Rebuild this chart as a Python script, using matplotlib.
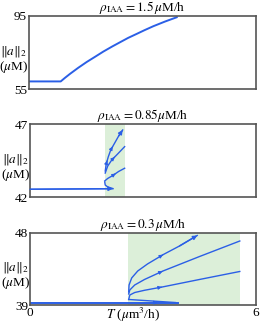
import matplotlib
matplotlib.use("Agg")
import matplotlib.pyplot as plt

plt.rcParams['font.family'] = ['Liberation Serif', 'DejaVu Serif']
plt.rcParams['mathtext.fontset'] = 'stix'

# ---------------- data ----------------
titles = [r"$\rho_{\rm IAA} = 1.5\,\mu$M/h",
          r"$\rho_{\rm IAA} = 0.85\mu$M/h",
          r"$\rho_{\rm IAA} = 0.3\,\mu$M/h"]
ylims = [(55, 95), (42, 47), (39, 48)]
ytick_labels = [["55", "95"], ["42", "47"], ["39", "48"]]
xtick_labels = ["0", "6"]
xlim = (0, 6)

# panel 1 (rho = 1.5)
p1_T = [0.0, 0.838, 0.95, 1.084, 1.30, 1.525, 1.75, 1.964, 2.20, 2.405,
        2.62, 2.847, 3.05, 3.286, 3.60, 3.904]
p1_a = [59.15, 59.15, 61.1, 63.3, 66.6, 69.8, 72.7, 75.5, 78.3, 80.6,
        83.0, 85.2, 87.2, 89.4, 92.0, 94.3]

# panel 2 (rho = 0.85)
p2_band = (1.98, 2.51)
p2_flat_T = [0.0, 2.20]
p2_flat_a = [42.53, 42.57]
p2_hook_T = [2.196, 2.063, 1.997, 1.984]
p2_hook_a = [42.58, 42.69, 42.82, 43.03]
p2_b3_T = [1.984, 2.063, 2.196, 2.354, 2.513]
p2_b3_a = [43.10, 43.27, 43.47, 43.75, 43.97]
p2_b2_T = [1.997, 2.063, 2.169, 2.328, 2.513]
p2_b2_a = [43.64, 44.12, 44.53, 44.95, 45.45]
p2_b1_T = [1.997, 2.024, 2.077, 2.143, 2.249, 2.354, 2.460]
p2_b1_a = [43.78, 44.26, 44.74, 45.22, 45.70, 46.18, 46.59]

# panel 3 (rho = 0.3)
p3_band = (2.60, 5.58)
p3_flat_T = [0.0, 3.94]
p3_flat_a = [39.30, 39.30]
p3_ret_T = [3.86, 2.62]
p3_ret_a = [39.31, 39.69]
p3_b3_T = [2.62, 2.65, 2.78, 3.04, 3.51, 4.50, 5.57]
p3_b3_a = [39.69, 40.25, 40.56, 40.84, 41.25, 42.19, 43.19]
p3_b2_T = [2.62, 2.65, 2.78, 3.04, 3.53, 4.50, 5.57]
p3_b2_a = [40.38, 40.88, 41.50, 42.19, 43.25, 45.06, 47.00]
p3_b1_T = [2.62, 2.63, 2.70, 2.86, 3.12, 3.54, 3.97, 4.44]
p3_b1_a = [40.63, 41.50, 42.38, 43.25, 44.13, 45.31, 46.38, 47.69]

# ---------------- style ----------------
BLUE = '#2b5fe6'
GREEN = '#dcefd9'
FRAME = '#555555'

W, H = 261, 325
fig = plt.figure(figsize=(W / 100, H / 100), dpi=100)

boxes = [(29, 16, 256, 89), (30, 124, 256, 197), (30, 233, 256, 305)]
axes = []
for (l, t, r, b) in boxes:
    ax = fig.add_axes([l / W, 1 - b / H, (r - l) / W, (b - t) / H])
    axes.append(ax)


def arrow(ax, T, a, i, lw=1.0, ms=6):
    ax.annotate('', xy=(T[i + 1], a[i + 1]), xytext=(T[i], a[i]),
                arrowprops=dict(arrowstyle='-|>', color=BLUE, lw=lw,
                                mutation_scale=ms, shrinkA=0, shrinkB=0),
                zorder=4)


def mid_arrow(ax, T, a, i, frac=0.5, ms=5):
    x0, y0 = T[i], a[i]
    x1, y1 = T[i + 1], a[i + 1]
    xm = x0 + frac * (x1 - x0)
    ym = y0 + frac * (y1 - y0)
    xs = xm - 0.02 * (x1 - x0)
    ys = ym - 0.02 * (y1 - y0)
    ax.annotate('', xy=(xm, ym), xytext=(xs, ys),
                arrowprops=dict(arrowstyle='-|>', color=BLUE, lw=0.8,
                                mutation_scale=ms, shrinkA=0, shrinkB=0),
                zorder=4)


for k, ax in enumerate(axes):
    ax.set_xlim(*xlim)
    ax.set_ylim(*ylims[k])
    ax.set_yticks(list(ylims[k]))
    ax.set_yticklabels(ytick_labels[k])
    ax.tick_params(axis='both', length=0, pad=1.5, labelsize=9.5)
    for s in ax.spines.values():
        s.set_color(FRAME)
        s.set_linewidth(1.2)
    ax.set_title(titles[k], fontsize=9.5, pad=2)
    ax.text(-0.066, 0.52, r"$\|a\|_2$", transform=ax.transAxes,
            ha='center', va='center', fontsize=9.5)
    ax.text(-0.066, 0.30, r"($\mu$M)", transform=ax.transAxes,
            ha='center', va='center', fontsize=9.5)
    if k < 2:
        ax.set_xticks([])
    else:
        ax.set_xticks(list(xlim))
        ax.set_xticklabels(xtick_labels)
        ax.text(0.455, -0.135, r"$T$ ($\mu$m$^3$/h)", transform=ax.transAxes,
                ha='center', va='center', fontsize=9.5)

# panel 1
ax = axes[0]
ax.plot(p1_T, p1_a, color=BLUE, lw=1.4)

# panel 2
ax = axes[1]
ax.axvspan(*p2_band, color=GREEN, lw=0, zorder=0)
for T, a in [(p2_flat_T, p2_flat_a), (p2_hook_T, p2_hook_a), (p2_b3_T, p2_b3_a),
             (p2_b2_T, p2_b2_a), (p2_b1_T, p2_b1_a)]:
    ax.plot(T, a, color=BLUE, lw=1.0)
arrow(ax, p2_flat_T, p2_flat_a, 0)
arrow(ax, p2_b1_T, p2_b1_a, len(p2_b1_T) - 2)
mid_arrow(ax, p2_b1_T, p2_b1_a, 1)
mid_arrow(ax, p2_b1_T, p2_b1_a, 3)
mid_arrow(ax, p2_b2_T, p2_b2_a, 2)
mid_arrow(ax, p2_b3_T, p2_b3_a, 2)

# panel 3
ax = axes[2]
ax.axvspan(*p3_band, color=GREEN, lw=0, zorder=0)
ax.plot(p3_flat_T, p3_flat_a, color=BLUE, lw=1.4)
for T, a in [(p3_ret_T, p3_ret_a), (p3_b3_T, p3_b3_a),
             (p3_b2_T, p3_b2_a), (p3_b1_T, p3_b1_a)]:
    ax.plot(T, a, color=BLUE, lw=1.0)
mid_arrow(ax, p3_flat_T, p3_flat_a, 0, frac=0.86)
arrow(ax, p3_b1_T, p3_b1_a, len(p3_b1_T) - 2)
mid_arrow(ax, p3_b1_T, p3_b1_a, 4, frac=0.98)
mid_arrow(ax, p3_b2_T, p3_b2_a, 3, frac=0.98)
mid_arrow(ax, p3_b3_T, p3_b3_a, 3, frac=0.98)

fig.savefig("out.png", dpi=100)
